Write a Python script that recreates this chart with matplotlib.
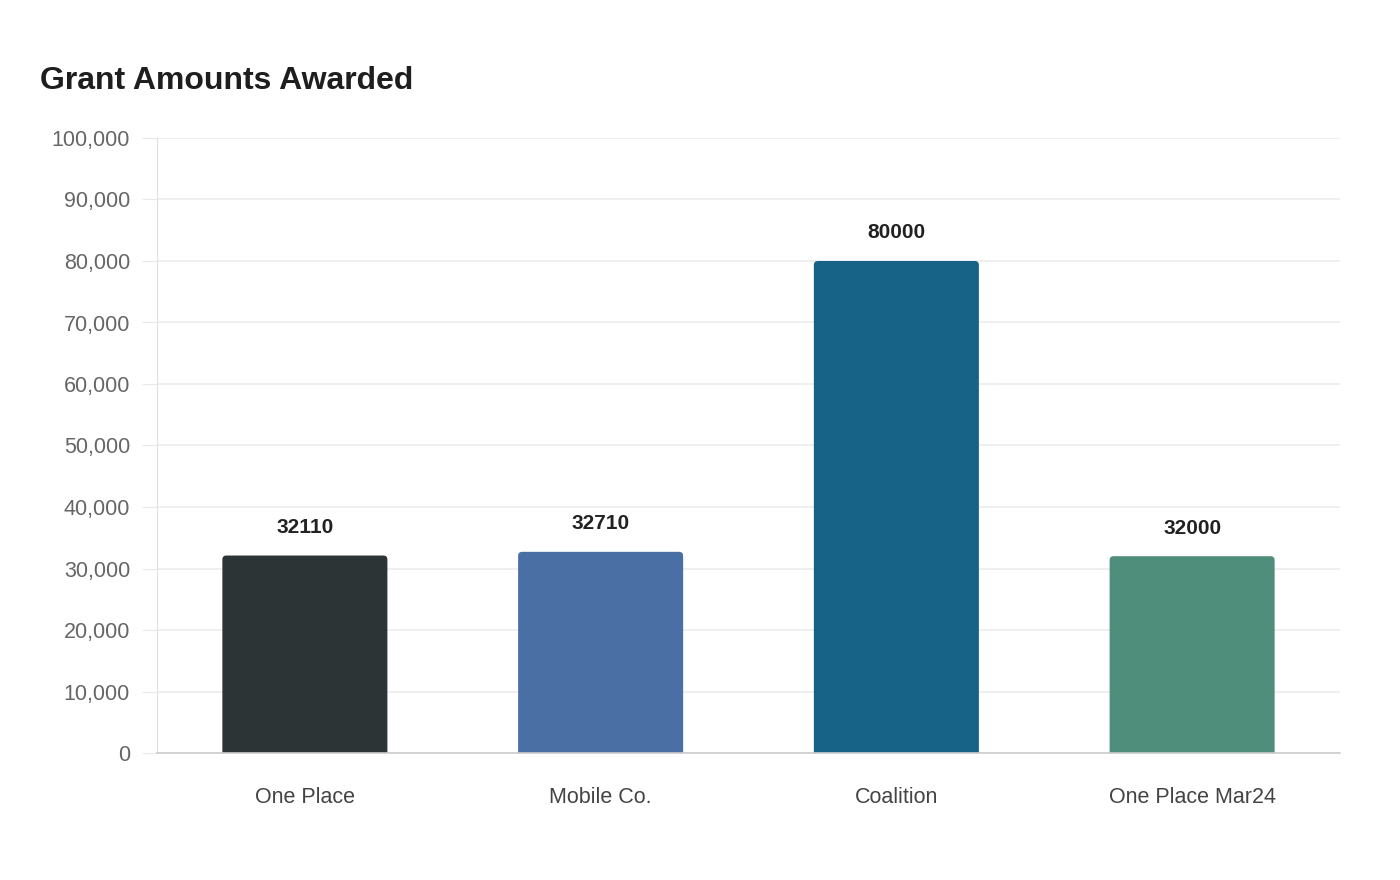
import matplotlib.pyplot as plt
from matplotlib.patches import FancyBboxPatch
from matplotlib.ticker import FuncFormatter

plt.rcParams['font.family'] = ['Liberation Sans', 'DejaVu Sans']

categories = ['One Place', 'Mobile Co.', 'Coalition', 'One Place Mar24']
amounts = [32110, 32710, 80000, 32000]
colors = ['#2d3436', '#4a6fa5', '#176287', '#4e8e7b']

PT = 72 / 100  # points per pixel at dpi 100

fig = plt.figure(figsize=(14, 8.8), dpi=100)
ax = fig.add_axes([157 / 1400, 1 - 753 / 880, 1183 / 1400, 615 / 880])

ax.set_xlim(-0.5, len(categories) - 0.5)
ax.set_ylim(0, 100000)

# rounded tops: compute aspect of data units per pixel
x_per_px = len(categories) / 1183
y_per_px = 100000 / 615
r = 4 * x_per_px
width = 0.558
for i, (v, c) in enumerate(zip(amounts, colors)):
    p = FancyBboxPatch((i - width / 2, -2000), width, v + 2000,
                       boxstyle=f"round,pad=0,rounding_size={r}",
                       mutation_aspect=y_per_px / x_per_px,
                       facecolor=c, edgecolor='none', zorder=3)
    ax.add_patch(p)
    ax.annotate(str(v), (i, v), xytext=(0, 28 * PT), textcoords='offset points',
                ha='center', va='center', fontsize=15, fontweight='bold',
                color='#222222', zorder=4)

ax.set_xticks(range(len(categories)))
ax.set_xticklabels(categories, fontsize=15.5, color='#444444')
ax.tick_params(axis='x', length=0, pad=34 * PT)

ax.set_yticks(range(0, 100001, 10000))
ax.yaxis.set_major_formatter(FuncFormatter(lambda v, _: f"{int(v):,}"))
ax.tick_params(axis='y', length=15 * PT, color='#e8e8e8', labelsize=15.5,
               labelcolor='#666666', pad=12 * PT)
ax.grid(axis='y', color='#ececec', linewidth=1.2, zorder=0)
ax.set_axisbelow(True)

for s in ['top', 'right']:
    ax.spines[s].set_visible(False)
ax.spines['left'].set_color('#e0e0e0')
ax.spines['bottom'].set_color('#cccccc')
ax.spines['bottom'].set_linewidth(1.2)
ax.spines['bottom'].set_zorder(5)

fig.text(40 / 1400, 1 - 81 / 880, 'Grant Amounts Awarded', fontsize=23,
         fontweight='bold', color='#1e1e1e', ha='left', va='center')

fig.savefig('out.png', dpi=100, facecolor='white')
